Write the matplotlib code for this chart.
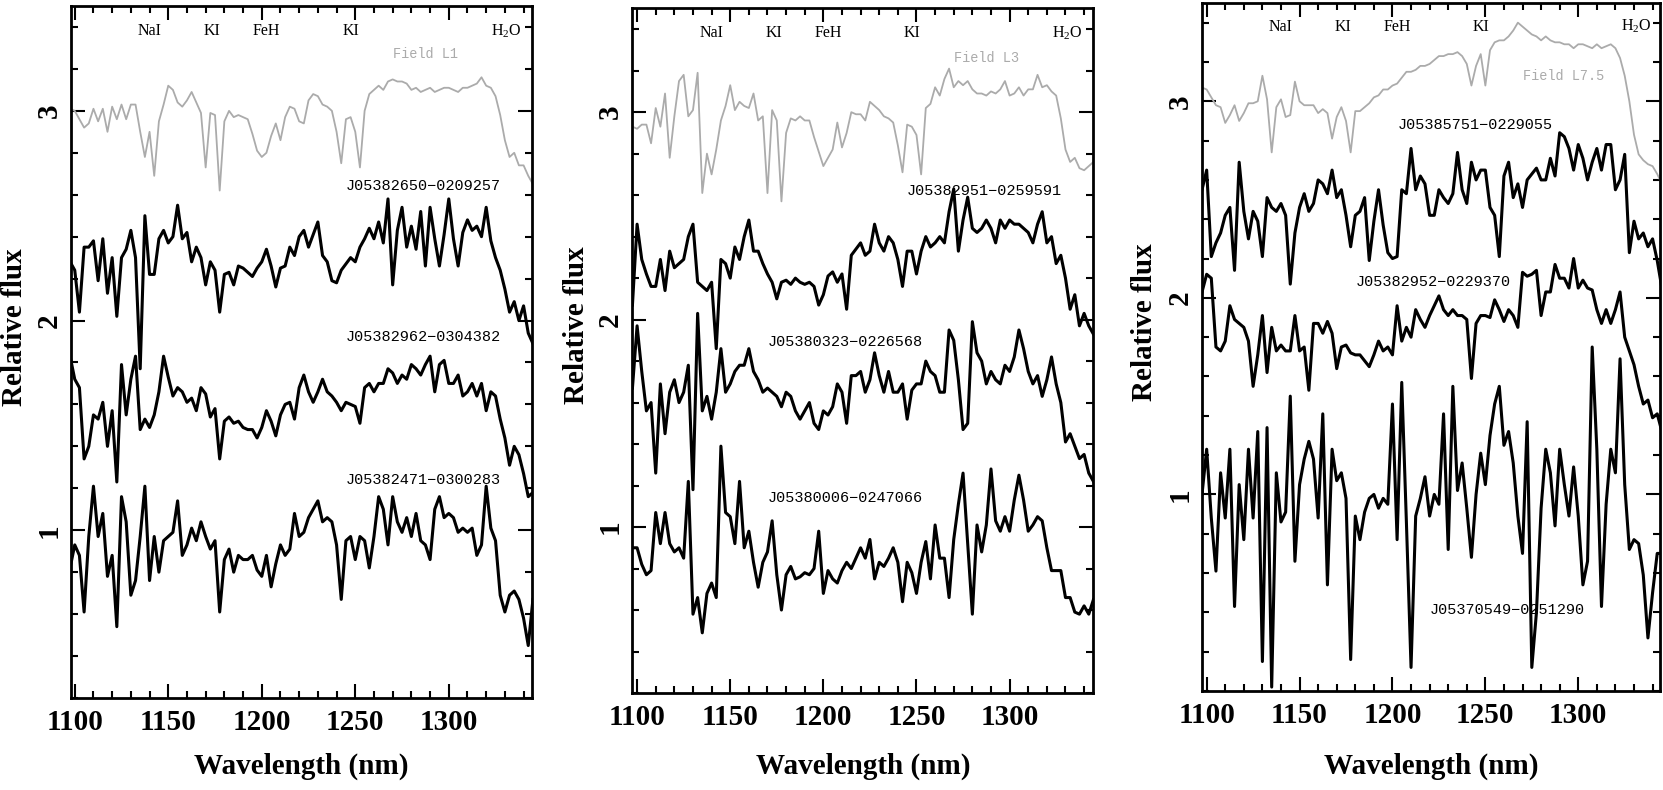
import numpy as np
import matplotlib
matplotlib.use("Agg")
import matplotlib.pyplot as plt
from matplotlib.ticker import MultipleLocator, FixedLocator

plt.rcParams['font.family'] = ['Liberation Serif', 'DejaVu Serif']
plt.rcParams['mathtext.fontset'] = 'custom'
plt.rcParams['mathtext.rm'] = 'Liberation Serif'

# common wavelength grid (nm), 2.5 nm steps
wave = np.arange(1097.5, 1345.1, 2.5)

# ---- panel 1 ----
field_l1 = [3.01, 3.00, 2.96, 2.92, 2.94, 3.01, 2.95, 3.01, 2.90, 3.02,
            2.96, 3.03, 2.96, 3.03, 3.03, 2.90, 2.78, 2.90, 2.69, 2.95,
            3.03, 3.12, 3.10, 3.04, 3.02, 3.05, 3.09, 3.04, 2.99, 2.73,
            2.99, 2.98, 2.62, 2.95, 3.00, 2.97, 2.98, 2.97, 2.96, 2.89,
            2.81, 2.78, 2.80, 2.88, 2.94, 2.86, 2.97, 3.02, 3.01, 2.95,
            2.94, 3.05, 3.08, 3.07, 3.03, 3.02, 3.00, 2.90, 2.75, 2.96,
            2.97, 2.90, 2.73, 3.00, 3.08, 3.10, 3.12, 3.10, 3.14, 3.15,
            3.14, 3.14, 3.13, 3.10, 3.11, 3.09, 3.10, 3.11, 3.09, 3.10,
            3.11, 3.11, 3.10, 3.09, 3.11, 3.11, 3.12, 3.13, 3.16, 3.12,
            3.11, 3.07, 2.98, 2.86, 2.78, 2.80, 2.74, 2.74, 2.69, 2.65]
j0209257 = [2.28, 2.24, 2.04, 2.35, 2.35, 2.38, 2.19, 2.39, 2.13, 2.30,
            2.02, 2.30, 2.34, 2.43, 2.30, 1.77, 2.50, 2.22, 2.22, 2.39,
            2.43, 2.37, 2.40, 2.55, 2.39, 2.42, 2.28, 2.35, 2.30, 2.17,
            2.28, 2.24, 2.04, 2.22, 2.23, 2.17, 2.26, 2.25, 2.23, 2.21,
            2.25, 2.28, 2.34, 2.26, 2.16, 2.25, 2.26, 2.35, 2.31, 2.40,
            2.43, 2.35, 2.41, 2.47, 2.31, 2.28, 2.19, 2.18, 2.24, 2.27,
            2.30, 2.28, 2.35, 2.39, 2.44, 2.39, 2.47, 2.37, 2.58, 2.17,
            2.43, 2.54, 2.35, 2.45, 2.34, 2.52, 2.26, 2.54, 2.39, 2.26,
            2.41, 2.58, 2.39, 2.26, 2.42, 2.48, 2.43, 2.45, 2.40, 2.54,
            2.38, 2.30, 2.24, 2.15, 2.04, 2.09, 2.00, 2.07, 1.94, 1.89]
j0304382 = [1.83, 1.72, 1.68, 1.34, 1.40, 1.55, 1.53, 1.61, 1.40, 1.57,
            1.23, 1.79, 1.55, 1.72, 1.83, 1.48, 1.53, 1.49, 1.55, 1.66,
            1.83, 1.73, 1.64, 1.68, 1.66, 1.61, 1.63, 1.57, 1.68, 1.65,
            1.54, 1.58, 1.34, 1.52, 1.54, 1.51, 1.52, 1.49, 1.48, 1.48,
            1.44, 1.49, 1.57, 1.52, 1.45, 1.55, 1.60, 1.61, 1.53, 1.68,
            1.74, 1.66, 1.61, 1.66, 1.72, 1.66, 1.64, 1.61, 1.57, 1.61,
            1.60, 1.59, 1.51, 1.68, 1.70, 1.66, 1.70, 1.70, 1.77, 1.75,
            1.70, 1.74, 1.72, 1.79, 1.77, 1.74, 1.79, 1.83, 1.66, 1.79,
            1.81, 1.70, 1.70, 1.74, 1.64, 1.66, 1.70, 1.64, 1.70, 1.57,
            1.66, 1.64, 1.53, 1.44, 1.31, 1.40, 1.36, 1.27, 1.16, 1.18]
j0300283 = [0.82, 0.93, 0.88, 0.61, 0.97, 1.21, 0.97, 1.08, 0.78, 0.88,
            0.54, 1.16, 1.04, 0.69, 0.76, 0.97, 1.21, 0.76, 0.97, 0.80,
            0.95, 0.97, 0.99, 1.14, 0.88, 0.93, 1.01, 0.95, 1.04, 0.97,
            0.91, 0.95, 0.61, 0.86, 0.91, 0.80, 0.88, 0.86, 0.86, 0.88,
            0.81, 0.78, 0.88, 0.73, 0.84, 0.93, 0.88, 0.91, 1.08, 0.97,
            0.99, 1.06, 1.10, 1.14, 1.04, 1.06, 1.04, 0.93, 0.67, 0.95,
            0.97, 0.86, 0.97, 0.95, 0.82, 0.97, 1.16, 1.10, 0.93, 1.16,
            1.04, 0.99, 1.06, 0.97, 1.08, 0.95, 0.93, 0.86, 1.10, 1.16,
            1.06, 1.08, 1.06, 0.99, 1.01, 0.99, 1.01, 0.88, 0.93, 1.21,
            1.01, 0.95, 0.69, 0.61, 0.69, 0.71, 0.67, 0.58, 0.45, 0.67]

# ---- panel 2 ----
field_l3 = [2.93, 2.92, 2.94, 2.94, 2.85, 3.02, 2.93, 3.09, 2.78, 2.98,
            3.15, 3.18, 2.98, 3.01, 3.19, 2.61, 2.80, 2.70, 2.82, 2.96,
            3.03, 3.13, 3.01, 3.05, 3.03, 3.02, 3.09, 2.96, 2.98, 2.61,
            3.01, 2.96, 2.57, 2.90, 2.97, 2.96, 2.98, 2.96, 2.96, 2.88,
            2.81, 2.74, 2.78, 2.82, 2.95, 2.83, 2.90, 3.00, 2.99, 2.99,
            2.96, 3.05, 3.03, 3.01, 2.98, 2.97, 2.95, 2.84, 2.71, 2.94,
            2.93, 2.89, 2.70, 3.02, 3.04, 3.12, 3.08, 3.16, 3.21, 3.12,
            3.15, 3.13, 3.15, 3.11, 3.09, 3.09, 3.08, 3.10, 3.09, 3.11,
            3.15, 3.08, 3.09, 3.12, 3.08, 3.11, 3.11, 3.18, 3.12, 3.13,
            3.10, 3.08, 2.97, 2.82, 2.76, 2.78, 2.73, 2.72, 2.74, 2.76]
j0259591 = [2.07, 2.46, 2.29, 2.22, 2.16, 2.16, 2.29, 2.14, 2.33, 2.25,
            2.27, 2.29, 2.40, 2.46, 2.18, 2.16, 2.14, 2.18, 1.86, 2.29,
            2.27, 2.20, 2.35, 2.29, 2.40, 2.48, 2.33, 2.33, 2.27, 2.22,
            2.18, 2.10, 2.18, 2.19, 2.17, 2.20, 2.18, 2.17, 2.18, 2.16,
            2.07, 2.12, 2.21, 2.23, 2.18, 2.22, 2.05, 2.31, 2.34, 2.37,
            2.31, 2.33, 2.46, 2.37, 2.33, 2.40, 2.37, 2.29, 2.16, 2.33,
            2.33, 2.22, 2.33, 2.40, 2.35, 2.37, 2.40, 2.37, 2.52, 2.63,
            2.33, 2.48, 2.59, 2.44, 2.42, 2.44, 2.48, 2.44, 2.37, 2.48,
            2.44, 2.48, 2.46, 2.46, 2.44, 2.42, 2.37, 2.46, 2.52, 2.37,
            2.40, 2.27, 2.31, 2.20, 2.05, 2.12, 1.97, 2.03, 1.97, 1.93]
j0226568 = [1.67, 1.97, 1.75, 1.56, 1.60, 1.26, 1.69, 1.45, 1.65, 1.71,
            1.60, 1.65, 1.78, 1.18, 2.03, 1.56, 1.63, 1.52, 1.65, 1.86,
            1.65, 1.69, 1.75, 1.78, 1.78, 1.86, 1.75, 1.71, 1.65, 1.67,
            1.65, 1.63, 1.58, 1.65, 1.63, 1.56, 1.52, 1.56, 1.60, 1.50,
            1.47, 1.56, 1.54, 1.58, 1.69, 1.65, 1.50, 1.73, 1.73, 1.75,
            1.65, 1.71, 1.84, 1.73, 1.65, 1.75, 1.65, 1.65, 1.69, 1.52,
            1.66, 1.69, 1.69, 1.80, 1.75, 1.73, 1.65, 1.65, 1.95, 1.90,
            1.71, 1.47, 1.50, 1.99, 1.84, 1.80, 1.69, 1.75, 1.71, 1.69,
            1.78, 1.75, 1.82, 1.95, 1.86, 1.75, 1.69, 1.73, 1.63, 1.71,
            1.82, 1.69, 1.60, 1.41, 1.45, 1.39, 1.33, 1.35, 1.26, 1.22]
j0247066 = [0.90, 0.90, 0.82, 0.77, 0.79, 1.07, 0.92, 1.07, 0.92, 0.88,
            0.90, 0.85, 1.22, 0.58, 0.66, 0.49, 0.68, 0.73, 0.66, 1.39,
            1.07, 1.05, 0.92, 1.22, 0.90, 0.98, 0.83, 0.71, 0.83, 0.88,
            1.03, 0.77, 0.60, 0.77, 0.81, 0.75, 0.76, 0.78, 0.77, 0.80,
            0.98, 0.68, 0.79, 0.75, 0.73, 0.79, 0.83, 0.80, 0.85, 0.90,
            0.85, 0.94, 0.75, 0.83, 0.81, 0.85, 0.90, 0.83, 0.64, 0.83,
            0.78, 0.68, 0.83, 0.93, 0.75, 1.01, 0.85, 0.85, 0.66, 0.94,
            1.11, 1.26, 0.92, 0.58, 1.01, 0.88, 1.01, 1.28, 1.03, 0.98,
            1.05, 0.98, 1.13, 1.25, 1.13, 0.98, 1.01, 1.05, 1.03, 0.90,
            0.79, 0.79, 0.79, 0.66, 0.66, 0.59, 0.58, 0.62, 0.58, 0.65]

# ---- panel 3 ----
field_l75 = [3.07, 3.06, 3.02, 2.98, 2.97, 2.89, 2.93, 2.98, 2.90, 2.94,
             2.99, 2.99, 3.00, 3.13, 3.01, 2.74, 2.97, 3.01, 2.92, 2.93,
             3.10, 3.00, 2.98, 2.98, 2.98, 2.94, 2.96, 2.94, 2.81, 2.92,
             2.97, 2.90, 2.74, 2.95, 2.95, 2.97, 2.99, 3.02, 3.03, 3.06,
             3.06, 3.08, 3.09, 3.12, 3.15, 3.15, 3.16, 3.18, 3.18, 3.19,
             3.21, 3.23, 3.23, 3.24, 3.24, 3.25, 3.23, 3.19, 3.08, 3.18,
             3.24, 3.08, 3.26, 3.30, 3.31, 3.31, 3.33, 3.36, 3.40, 3.38,
             3.36, 3.34, 3.33, 3.31, 3.33, 3.31, 3.30, 3.30, 3.29, 3.29,
             3.27, 3.29, 3.29, 3.28, 3.27, 3.29, 3.27, 3.28, 3.29, 3.27,
             3.22, 3.13, 3.00, 2.83, 2.73, 2.70, 2.68, 2.67, 2.63, 2.58]
j0229055 = [2.55, 2.65, 2.21, 2.28, 2.33, 2.42, 2.46, 2.14, 2.69, 2.44,
            2.30, 2.44, 2.39, 2.21, 2.51, 2.46, 2.44, 2.48, 2.42, 2.07,
            2.33, 2.46, 2.53, 2.44, 2.48, 2.60, 2.58, 2.53, 2.65, 2.51,
            2.55, 2.42, 2.26, 2.42, 2.44, 2.51, 2.19, 2.39, 2.55, 2.37,
            2.23, 2.20, 2.21, 2.55, 2.53, 2.76, 2.55, 2.62, 2.58, 2.42,
            2.42, 2.55, 2.51, 2.48, 2.53, 2.74, 2.55, 2.48, 2.69, 2.60,
            2.65, 2.65, 2.46, 2.42, 2.21, 2.62, 2.69, 2.51, 2.58, 2.46,
            2.60, 2.63, 2.66, 2.60, 2.60, 2.71, 2.62, 2.84, 2.82, 2.76,
            2.65, 2.78, 2.71, 2.60, 2.69, 2.76, 2.65, 2.78, 2.78, 2.55,
            2.60, 2.73, 2.23, 2.39, 2.30, 2.33, 2.26, 2.30, 2.19, 2.05]
j0229370 = [2.03, 2.12, 2.10, 1.75, 1.73, 1.78, 1.96, 1.89, 1.87, 1.85,
            1.78, 1.55, 1.71, 1.91, 1.62, 1.85, 1.73, 1.76, 1.73, 1.73,
            1.91, 1.73, 1.75, 1.53, 1.87, 1.87, 1.82, 1.88, 1.82, 1.64,
            1.75, 1.76, 1.72, 1.71, 1.71, 1.68, 1.65, 1.71, 1.78, 1.73,
            1.75, 1.71, 1.96, 1.78, 1.85, 1.80, 1.94, 1.89, 1.85, 1.91,
            1.96, 2.01, 1.94, 1.91, 1.94, 1.91, 1.91, 1.89, 1.59, 1.87,
            1.91, 1.91, 1.90, 1.99, 1.94, 1.88, 1.94, 1.91, 1.85, 2.13,
            2.11, 2.12, 2.14, 1.91, 2.03, 2.03, 2.17, 2.10, 2.10, 2.05,
            2.20, 2.05, 2.09, 2.05, 2.04, 1.94, 1.87, 1.94, 1.87, 1.94,
            2.03, 1.80, 1.73, 1.66, 1.55, 1.46, 1.48, 1.39, 1.41, 1.32]
j0251290 = [1.00, 1.23, 0.88, 0.61, 1.11, 0.88, 1.23, 0.43, 1.05, 0.77,
            1.23, 0.88, 1.32, 0.15, 1.34, 0.02, 1.11, 0.86, 0.91, 1.50,
            0.66, 1.05, 1.18, 1.27, 1.18, 0.88, 1.41, 0.54, 1.23, 1.07,
            1.11, 0.98, 0.16, 0.89, 0.77, 0.91, 0.98, 1.00, 0.93, 0.98,
            0.95, 1.46, 0.77, 1.57, 0.86, 0.12, 0.89, 0.98, 1.09, 0.89,
            1.00, 0.95, 1.41, 0.72, 1.55, 1.02, 1.16, 0.93, 0.68, 1.00,
            1.21, 1.05, 1.30, 1.46, 1.55, 1.25, 1.32, 1.16, 0.89, 0.70,
            1.37, 0.12, 0.40, 0.93, 1.23, 1.11, 0.84, 1.23, 1.05, 0.89,
            1.14, 0.89, 0.54, 0.66, 1.75, 1.23, 0.43, 0.95, 1.23, 1.11,
            1.69, 1.05, 0.72, 0.77, 0.75, 0.59, 0.27, 0.50, 0.70, 0.70]

features = ['NaI', 'KI', 'FeH', 'KI', r'H$_2$O']
feature_wave = [1140, 1173.5, 1202.5, 1247.5, 1331]
flux_ticks = [1, 2, 3]

panels = [
    dict(rect=[0.0427, 0.1165, 0.2772, 0.8759], xlim=(1098, 1344.5), ylim=(0.2, 3.5),
         field=field_l1, field_name='Field L1', field_pos=(1270, 3.27),
         spectra=[j0209257, j0304382, j0300283],
         names=['J05382650\u22120209257', 'J05382962\u22120304382', 'J05382471\u22120300283'],
         name_pos=[(1245, 2.64), (1245, 1.92), (1245, 1.24)],
         ylabel_x=15),
    dict(rect=[0.3803, 0.1228, 0.2772, 0.8665], xlim=(1097.5, 1345), ylim=(0.2, 3.5),
         field=field_l3, field_name='Field L3', field_pos=(1270, 3.26),
         spectra=[j0259591, j0226568, j0247066],
         names=['J05382951\u22120259591', 'J05380323\u22120226568', 'J05380006\u22120247066'],
         name_pos=[(1244.5, 2.62), (1170, 1.89), (1170, 1.14)],
         ylabel_x=576),
    dict(rect=[0.7228, 0.1253, 0.2754, 0.8709], xlim=(1097.5, 1344), ylim=(0.0, 3.5),
         field=field_l75, field_name='Field L7.5', field_pos=(1270, 3.13),
         spectra=[j0229055, j0229370, j0251290],
         names=['J05385751\u22120229055', 'J05382952\u22120229370', 'J05370549\u22120251290'],
         name_pos=[(1203, 2.88), (1180, 2.08), (1220, 0.41)],
         ylabel_x=1145),
]

W, H = 1663, 790
fig = plt.figure(figsize=(W / 100, H / 100), dpi=100)

for p in panels:
    ax = fig.add_axes(p['rect'])
    ax.plot(wave, p['field'], color='#ababab', lw=1.3)
    for s in p['spectra']:
        ax.plot(wave, s, color='black', lw=2.2)
    ax.set_xlim(*p['xlim'])
    ax.set_ylim(*p['ylim'])

    ax.xaxis.set_major_locator(MultipleLocator(50))
    ax.xaxis.set_minor_locator(MultipleLocator(10))
    ax.yaxis.set_major_locator(FixedLocator(flux_ticks))
    ax.yaxis.set_minor_locator(MultipleLocator(0.2))
    ax.tick_params(which='both', direction='in', top=True, right=True, width=1.5)
    ax.tick_params(which='major', length=10)
    ax.tick_params(which='minor', length=5)
    ax.tick_params(axis='x', pad=8)
    ax.tick_params(axis='y', pad=6, labelrotation=90)
    for lab in ax.get_xticklabels() + ax.get_yticklabels():
        lab.set_fontsize(21)
        lab.set_fontweight('bold')
    for lab in ax.get_yticklabels():
        lab.set_va('center')
    for sp in ax.spines.values():
        sp.set_linewidth(2.0)

    for name, wl in zip(features, feature_wave):
        ax.text(wl, 3.38, name, ha='center', va='center', fontsize=11.5)
    ax.text(*p['field_pos'], p['field_name'], ha='left', va='center',
            fontsize=9.8, family='Liberation Mono', color='#ababab')
    for name, (x, y) in zip(p['names'], p['name_pos']):
        ax.text(x, y, name, ha='left', va='center', fontsize=11,
                family='Liberation Mono')

    x0, y0, w, h = p['rect']
    fig.text(x0 + w / 2, (H - 766) / H, 'Wavelength (nm)', ha='center', va='center',
             fontsize=21, fontweight='bold')
    fig.text(p['ylabel_x'] / W, y0 + h / 2 + 0.032, 'Relative flux', ha='center', va='center',
             rotation=90, fontsize=21, fontweight='bold')

fig.savefig('out.png', dpi=100)
